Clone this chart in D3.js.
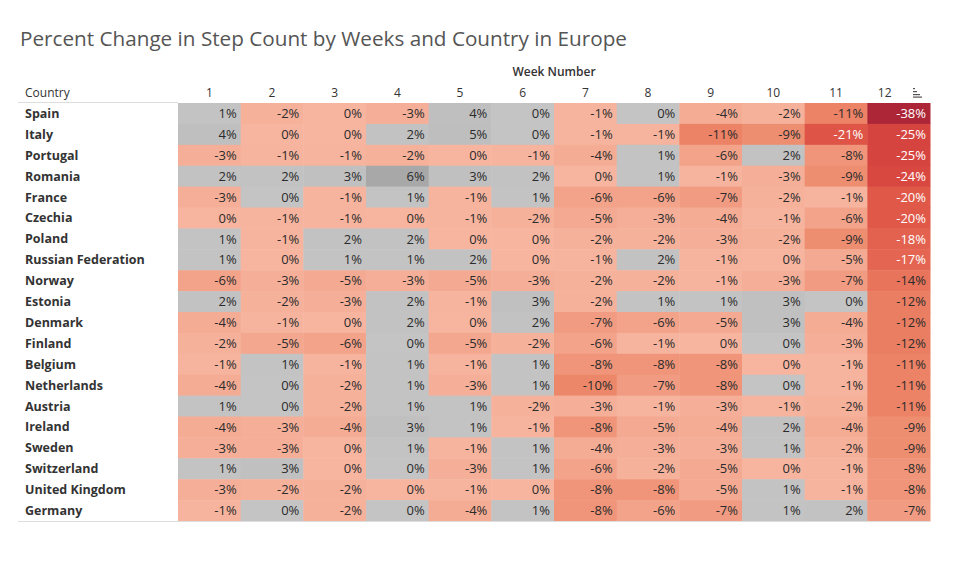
<!DOCTYPE html>
<html>
<head>
<meta charset="utf-8">
<title>Percent Change in Step Count</title>
<style>
  body { margin: 0; background: #fff; }
  text { font-family: "Open Sans", "DejaVu Sans", sans-serif; }
  .title { font-size: 20.7px; fill: #555; }
  .hdr { font-size: 12px; fill: #333; }
  .row-label { font-size: 12.5px; font-weight: 700; fill: #333; }
  .val { font-size: 13px; }
</style>
</head>
<body>
<svg width="968" height="569"></svg>
<script src="https://cdn.jsdelivr.net/npm/d3@7"></script>
<script>
// week columns
var weeks = [1, 2, 3, 4, 5, 6, 7, 8, 9, 10, 11, 12];

// countries, sorted by week 12
var countries = ["Spain", "Italy", "Portugal", "Romania", "France", "Czechia", "Poland",
  "Russian Federation", "Norway", "Estonia", "Denmark", "Finland", "Belgium", "Netherlands",
  "Austria", "Ireland", "Sweden", "Switzerland", "United Kingdom", "Germany"];

// percent change per country (rows) and week (columns)
// small fractions keep the sign of cells shown as 0%
var values = [
  [1, -2, -0.3, -3, 4, 0.3, -1, 0.3, -4, -2, -11, -38],
  [4, -0.3, -0.3, 2, 5, 0.3, -1, -1, -11, -9, -21, -25],
  [-3, -1, -1, -2, -0.3, -1, -4, 1, -6, 2, -8, -25],
  [2, 2, 3, 6, 3, 2, -0.3, 1, -1, -3, -9, -24],
  [-3, 0.3, -1, 1, -1, 1, -6, -6, -7, -2, -1, -20],
  [-0.3, -1, -1, -0.3, -1, -2, -5, -3, -4, -1, -6, -20],
  [1, -1, 2, 2, -0.3, -0.3, -2, -2, -3, -2, -9, -18],
  [1, -0.3, 1, 1, 2, -0.3, -1, 2, -1, -0.3, -5, -17],
  [-6, -3, -5, -3, -5, -3, -2, -2, -1, -3, -7, -14],
  [2, -2, -3, 2, -1, 3, -2, 1, 1, 3, 0.3, -12],
  [-4, -1, -0.3, 2, -0.3, 2, -7, -6, -5, 3, -4, -12],
  [-2, -5.4, -6, 0.3, -5.4, -2, -6, -1, -0.3, 0.3, -3, -12],
  [-1, 1, -1, 1, -1, 1, -8, -8, -8, -0.3, -1, -11],
  [-4, 0.3, -2, 1, -3, 1, -10, -7, -8, 0.3, -1, -11],
  [1, 0.3, -2, 1, 1, -2, -3, -1, -3, -1, -2, -11],
  [-4, -3, -4, 3, 1, -1, -8, -5, -4, 2, -4, -9],
  [-3, -3, -0.3, 1, -1, 1, -4, -3, -3, 1, -2, -9],
  [1, 3, -0.3, 0.3, -3, 1, -6, -2, -5, -0.3, -1, -8],
  [-3, -2, -2, -0.3, -1, -0.3, -8, -8, -5, 1, -1, -8],
  [-1, 0.3, -2, 0.3, -4, 1, -8, -6, -7, 1, 2, -7]
];

var svg = d3.select("svg"),
    margin = {top: 103, left: 178, right: 38, bottom: 48},
    width = +svg.attr("width") - margin.left - margin.right,
    height = +svg.attr("height") - margin.top - margin.bottom;

var x = d3.scaleBand().domain(weeks).range([0, width]),
    y = d3.scaleBand().domain(countries).range([0, height]);

// negative side: salmon to dark red, positive side: grey
var negColor = d3.scaleLinear()
    .domain([-38, -25, -20, -10, -5, 0])
    .range(["#ad2638", "#d6443f", "#e05848", "#ed8769", "#f4aa92", "#f7b6a1"])
    .clamp(true);
var posColor = d3.scaleLinear()
    .domain([0, 5, 6])
    .range(["#c4c4c4", "#bebebe", "#a8a8a8"])
    .clamp(true);
function cellColor(v) { return v < 0 ? negColor(v) : posColor(v); }
function fmt(v) { var r = Math.round(v); return (r === 0 ? 0 : r) + "%"; }

var cells = [];
countries.forEach(function(c, i) {
  weeks.forEach(function(w, j) {
    cells.push({country: c, week: w, value: values[i][j]});
  });
});

// title
svg.append("text").attr("class", "title")
    .attr("x", 20).attr("y", 46)
    .text("Percent Change in Step Count by Weeks and Country in Europe");

var g = svg.append("g").attr("transform", "translate(" + margin.left + "," + margin.top + ")");

// headers
g.append("text").attr("class", "hdr")
    .attr("x", width / 2).attr("y", -27)
    .attr("text-anchor", "middle")
    .style("font-weight", 600)
    .text("Week Number");
g.append("text").attr("class", "hdr")
    .attr("x", 25 - margin.left).attr("y", -6)
    .text("Country");
g.selectAll(".week-hdr")
  .data(weeks)
  .enter().append("text")
    .attr("class", "hdr week-hdr")
    .attr("x", function(d) { return x(d) + x.bandwidth() / 2 - (d === 12 ? 14 : 0); })
    .attr("y", -6)
    .attr("text-anchor", "middle")
    .text(function(d) { return d; });

// sort indicator next to week 12
var sortIcon = g.append("g")
    .attr("transform", "translate(" + (x(12) + x.bandwidth() - 17) + ",-15)")
    .style("fill", "#555");
[[0, 0, 2], [0, 3, 4], [0, 6, 7], [0, 8.5, 9]].forEach(function(b) {
  sortIcon.append("rect").attr("x", b[0]).attr("y", b[1]).attr("width", b[2]).attr("height", 1.2);
});

// cells
g.selectAll(".cell")
  .data(cells)
  .enter().append("rect")
    .attr("class", "cell")
    .attr("x", function(d) { return x(d.week); })
    .attr("y", function(d) { return y(d.country); })
    .attr("width", x.bandwidth() + 0.5)
    .attr("height", y.bandwidth() + 0.5)
    .style("fill", function(d) { return cellColor(d.value); });

g.selectAll(".val")
  .data(cells)
  .enter().append("text")
    .attr("class", "val")
    .attr("x", function(d) { return x(d.week) + x.bandwidth() - 4; })
    .attr("y", function(d) { return y(d.country) + y.bandwidth() / 2; })
    .attr("dy", "0.36em")
    .attr("text-anchor", "end")
    .style("fill", function(d) { return d.value <= -15 ? "#fff" : "#2b2b2b"; })
    .text(function(d) { return fmt(d.value); });

// row labels
g.selectAll(".row-label")
  .data(countries)
  .enter().append("text")
    .attr("class", "row-label")
    .attr("x", 25 - margin.left)
    .attr("y", function(d) { return y(d) + y.bandwidth() / 2; })
    .attr("dy", "0.36em")
    .text(function(d) { return d; });

// header and bottom rules
g.append("line")
    .attr("x1", 18 - margin.left).attr("x2", 0)
    .attr("y1", -0.5).attr("y2", -0.5)
    .style("stroke", "#ddd");
g.append("line")
    .attr("x1", 18 - margin.left).attr("x2", width)
    .attr("y1", height + 0.5).attr("y2", height + 0.5)
    .style("stroke", "#ddd");
</script>
</body>
</html>
